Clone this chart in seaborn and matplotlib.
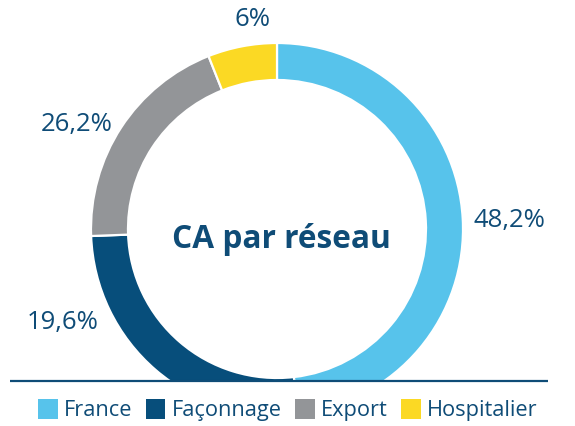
import matplotlib
matplotlib.use("Agg")
import matplotlib.pyplot as plt
from matplotlib.patches import Rectangle, Patch
import seaborn as sns

# ---------------------------------------
# données
# ---------------------------------------
reseaux = ["France", "Façonnage", "Export", "Hospitalier"]
parts = [48.2, 26.2, 19.6, 6.0]          # longueur des arcs
etiquettes = ["48,2%", "19,6%", "26,2%", "6%"]  # textes affichés
couleurs = ["#57C3EB", "#074E7B", "#939598", "#FBD924"]

# mise en page (pixels, origine en haut à gauche)
W, H = 575, 426
centre = (277, 229)
rayon, epaisseur = 186, 37
pos_etiquettes = [(509, 221), (63, 323), (77, 124), (253, 20)]
bleu_texte = "#0F4C77"

sns.set_theme(style="white")
plt.rcParams["font.family"] = ["Open Sans", "DejaVu Sans"]

fig = plt.figure(figsize=(W / 100, H / 100), dpi=100)
ax = fig.add_axes([0, 0, 1, 1])

wedges, _ = ax.pie(
    parts,
    colors=sns.color_palette(couleurs),
    startangle=-90,
    counterclock=True,   # axe y inversé -> sens horaire à l'écran
    center=centre,
    radius=rayon,
    frame=True,
    wedgeprops=dict(width=epaisseur, edgecolor="white", linewidth=1.6),
)
ax.set_xlim(0, W)
ax.set_ylim(H, 0)
ax.set_aspect("equal")
ax.axis("off")

# le bas de l'anneau est masqué sous la ligne
ax.add_patch(Rectangle((0, 381), W, H - 381, facecolor="white", edgecolor="none", zorder=5))
ax.plot([10, 548], [380.5, 380.5], color=bleu_texte, lw=1.6, solid_capstyle="butt", zorder=6)

for txt, (x, y) in zip(etiquettes, pos_etiquettes):
    ax.text(x, y, txt, ha="center", va="center", fontsize=18.5, color=bleu_texte)

ax.text(centre[0] + 4, 240, "CA par réseau", ha="center", va="center",
        fontsize=22.8, fontweight="bold", color=bleu_texte)

handles = [Patch(facecolor=c, edgecolor="none", label=r) for r, c in zip(reseaux, couleurs)]
leg = fig.legend(
    handles=handles,
    loc="center",
    bbox_to_anchor=(288 / W, 1 - 410 / H),
    ncol=4,
    frameon=False,
    fontsize=15.7,
    handlelength=0.9,
    handleheight=1.05,
    handletextpad=0.3,
    columnspacing=0.6,
)
for t in leg.get_texts():
    t.set_color(bleu_texte)

fig.savefig("out.png", dpi=100)
